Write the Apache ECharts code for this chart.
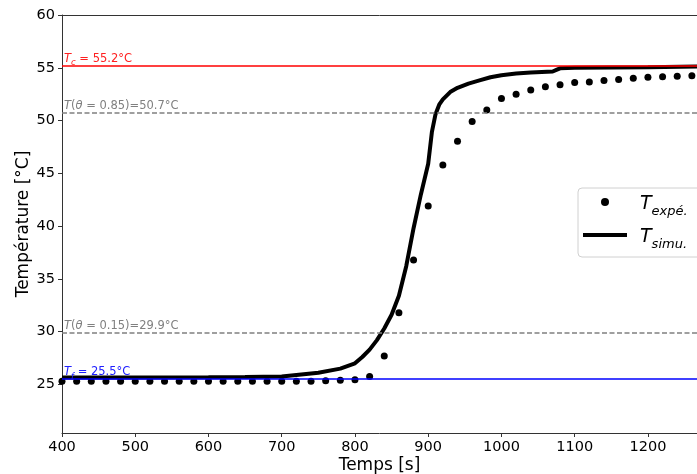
<!DOCTYPE html>
<html><head><meta charset="utf-8">
<script src="https://cdn.jsdelivr.net/npm/echarts@6/dist/echarts.min.js"></script>
<style>html,body{margin:0;padding:0;background:#fff}#c{width:697px;height:474px}</style>
</head><body><div id="c"></div>
<script>
// ---- data ----
const expTime = [400,420,440,460,480,500,520,540,560,580,600,620,640,660,680,700,720,740,760,780,800,820,840,860,880,900,920,940,960,980,1000,1020,1040,1060,1080,1100,1120,1140,1160,1180,1200,1220,1240,1260];
const expTemp = [25.3,25.3,25.3,25.3,25.3,25.3,25.3,25.3,25.3,25.3,25.3,25.3,25.3,25.3,25.3,25.3,25.3,25.3,25.35,25.4,25.45,25.75,27.7,31.8,36.8,41.9,45.8,48.05,49.9,51.0,52.1,52.5,52.9,53.2,53.4,53.6,53.65,53.8,53.9,54.0,54.1,54.15,54.2,54.25];
const simTime = [400,500,600,650,700,750,780,800,810,820,830,840,850,860,870,880,890,900,905,910,915,920,930,940,955,970,985,1000,1020,1040,1070,1075,1080,1100,1150,1200,1267];
const simTemp = [25.65,25.66,25.68,25.7,25.75,26.1,26.5,27.0,27.6,28.3,29.2,30.3,31.6,33.4,36.2,39.8,43.0,45.9,48.9,50.6,51.5,52.0,52.7,53.1,53.5,53.8,54.1,54.3,54.45,54.55,54.65,54.8,54.95,55.0,55.03,55.06,55.12];
const xTicks = [400,500,600,700,800,900,1000,1100,1200];
const yTicks = [25,30,35,40,45,50,55,60];
const refValues = [55.2, 50.7, 29.9, 25.5];
const refTexts = [
  '{it|T}{sub|c}{n| = 55.2°C}',
  '{it|T}{n|(}{it|θ}{n| = 0.85)=50.7°C}',
  '{it|T}{n|(}{it|θ}{n| = 0.15)=29.9°C}',
  '{it|T}{sub|f}{n| = 25.5°C}'
];
const seriesNames = ['T_expé.', 'T_simu.'];
const legendTexts = {'T_expé.': '{it|T}{sub|expé.}', 'T_simu.': '{it|T}{sub|simu.}'};

// ---- styles ----
const FONT = 'DejaVu Sans';
const refStyles = [
  {color:'#ff0000', type:'solid'},
  {color:'#808080', type:[5,2.5]},
  {color:'#808080', type:[5,2.5]},
  {color:'#0000ff', type:'solid'}
];
const refLabelColors = ['#ff2020', '#808080', '#808080', '#2020ff'];

const chart = echarts.init(document.getElementById('c'), null, {renderer:'canvas'});
const richLab = c => ({
  it: {fontFamily: FONT, fontStyle:'italic', fontSize: 11.5, color: c, lineHeight: 14, verticalAlign:'bottom'},
  sub: {fontFamily: FONT, fontStyle:'italic', fontSize: 8.5, color: c, lineHeight: 8, verticalAlign:'bottom', padding:[0,0,-3,0]},
  n: {fontFamily: FONT, fontSize: 11.5, color: c, lineHeight: 14, verticalAlign:'bottom'}
});

const option = {
  animation: false,
  backgroundColor: '#fff',
  grid: {left: 62, top: 15, right: 0, bottom: 41, containLabel: false, outerBoundsMode: 'none'},
  xAxis: [{
    type: 'value', min: 400, max: 1267,
    name: 'Temps [s]', nameLocation: 'middle', nameGap: 24, nameMoveOverlap: false,
    nameTextStyle: {fontFamily: FONT, fontSize: 17, color: '#000'},
    axisLine: {show: true, lineStyle: {color: '#333', width: 1}},
    axisTick: {show: true, length: 4, lineStyle: {color: '#333'}, customValues: xTicks},
    axisLabel: {fontFamily: FONT, fontSize: 14.5, color: '#000', margin: 7, customValues: xTicks, formatter: v => String(v)},
    splitLine: {show: false}
  }, {
    type: 'value', min: 400, max: 1267, position: 'top',
    axisLine: {show: true, lineStyle: {color: '#333', width: 1}},
    axisTick: {show: false}, axisLabel: {show: false}, splitLine: {show: false}
  }],
  yAxis: {
    type: 'value', min: 20.4, max: 60,
    name: 'Température [°C]', nameLocation: 'middle', nameGap: 30, nameMoveOverlap: false,
    nameTextStyle: {fontFamily: FONT, fontSize: 17, color: '#000'},
    axisLine: {show: true, lineStyle: {color: '#333', width: 1}},
    axisTick: {show: true, length: 4, lineStyle: {color: '#333'}, customValues: yTicks},
    axisLabel: {fontFamily: FONT, fontSize: 14.5, color: '#000', margin: 7, customValues: yTicks, formatter: v => String(v)},
    splitLine: {show: false}
  },
  legend: {
    orient: 'vertical', left: 578, top: 188,
    padding: [7, 20, 6, 5], itemGap: 10, itemWidth: 44, itemHeight: 8,
    backgroundColor: '#fff', borderColor: '#d0d0d0', borderWidth: 1, borderRadius: 4,
    data: [
      {name: seriesNames[0], icon: 'path://M0,0M44,8M18,4A4,4,0,1,0,26,4A4,4,0,1,0,18,4Z'},
      {name: seriesNames[1], icon: 'path://M0,0M44,8M0,2H44V6H0Z'}
    ],
    itemStyle: {color: '#000', opacity: 1},
    formatter: n => legendTexts[n],
    textStyle: {
      padding: [0, 0, 0, 8],
      rich: {
        it: {fontFamily: FONT, fontStyle:'italic', fontSize: 19, color:'#000', lineHeight: 24, verticalAlign:'bottom'},
        sub: {fontFamily: FONT, fontStyle:'italic', fontSize: 13, color:'#000', lineHeight: 12, verticalAlign:'bottom', padding:[0,0,-4,0]}
      }
    }
  },
  series: [
    {
      name: seriesNames[0], type: 'scatter', symbol: 'circle', symbolSize: 7,
      itemStyle: {color: '#000', opacity: 1}, z: 3,
      data: expTime.map((t, i) => [t, expTemp[i]]),
      markLine: {
        silent: true, symbol: ['none', 'none'], animation: false,
        data: refValues.map((v, i) => ({
          yAxis: v,
          lineStyle: {color: refStyles[i].color, type: refStyles[i].type, width: 1.5},
          label: {
            show: true, position: 'insideStartTop', distance: [2, 1],
            formatter: refTexts[i], rich: richLab(refLabelColors[i])
          }
        }))
      }
    },
    {
      name: seriesNames[1], type: 'line', symbol: 'none', smooth: false,
      lineStyle: {color: '#000', width: 4}, itemStyle: {color: '#000'}, z: 4,
      data: simTime.map((t, i) => [t, simTemp[i]])
    }
  ]
};
chart.setOption(option);
</script></body></html>
